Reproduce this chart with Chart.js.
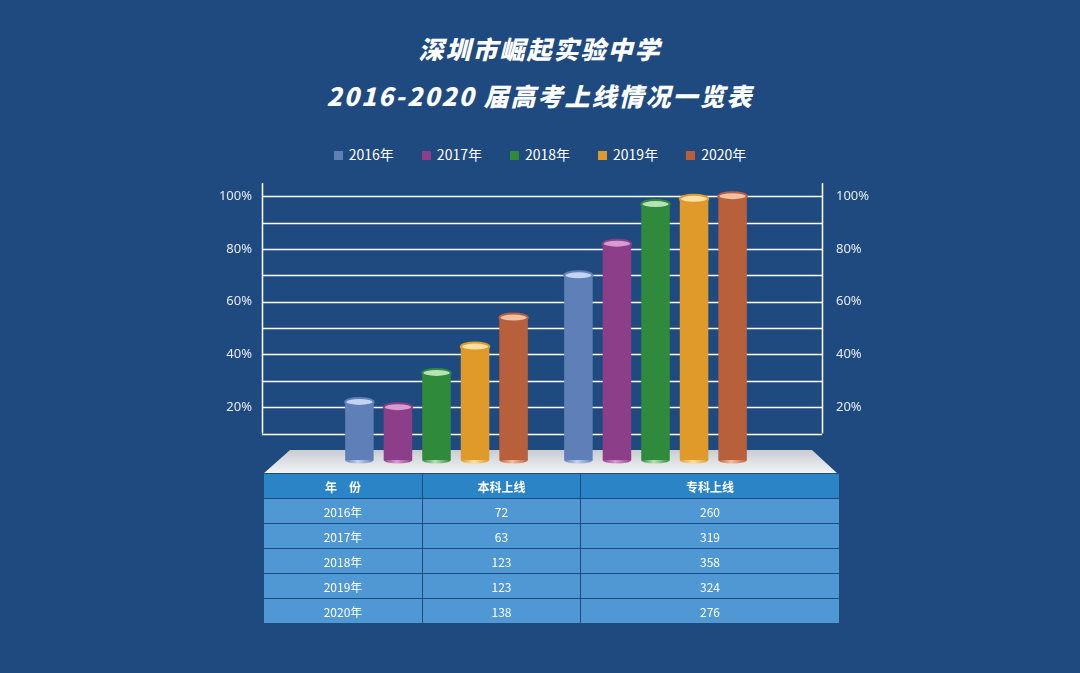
<!DOCTYPE html>
<html><head><meta charset="utf-8">
<script src="https://cdn.jsdelivr.net/npm/chart.js@4"></script>
<style>
body{margin:0;width:1080px;height:673px;background:#1f4a7f;font-family:"Noto Sans CJK SC","Noto Sans",sans-serif;position:relative;overflow:hidden}
.title{position:absolute;left:0;width:1080px;text-align:center;color:#fff;font-weight:900;font-style:italic;font-size:25px;letter-spacing:2px}
#legend{position:absolute;top:144px;left:0;width:1080px;text-align:center;color:#fff;font-size:14px}
#legend span{display:inline-block;margin:0 14px}
#legend i{display:inline-block;width:9px;height:9px;margin-right:6px}
#floor{position:absolute;left:263px;top:450px;width:575px;height:24px;clip-path:polygon(27px 0,549px 0,575px 100%,0 100%);background:linear-gradient(#c8ccd2,#f4f5f7)}
canvas{position:absolute;left:0;top:0}
table{position:absolute;left:263px;top:473px;width:576px;border-collapse:collapse;table-layout:fixed;color:#fff;font-size:12px}
td{border:1px solid #1f4a7f;height:24px;text-align:center;background:#4f98d3;padding:0}
tr:first-child td{background:#2a84c6;font-weight:bold}
</style></head><body>
<div class="title" style="top:30px">深圳市崛起实验中学</div>
<div class="title" style="top:77px">2016-2020 届高考上线情况一览表</div>
<div id="legend"></div>
<div id="floor"></div>
<canvas id="c" width="1080" height="673"></canvas>
<table id="tbl"><colgroup><col style="width:159px"><col style="width:158px"><col style="width:259px"></colgroup></table>
<script>
const groups = ['本科上线', '专科上线'];
const years = ['2016年', '2017年', '2018年', '2019年', '2020年'];
const rates = [[22, 70], [20, 82], [33, 97], [43, 99], [54, 100]];
const undergrad = [72, 63, 123, 123, 138];
const college = [260, 319, 358, 324, 276];
const yTicks = [20, 40, 60, 80, 100];
const gridVals = [10, 20, 30, 40, 50, 60, 70, 80, 90, 100];
const colors = [['#5f7fb8', '#c4d3ef'], ['#8c3f88', '#d89bd2'], ['#2f8a3c', '#b6e3b4'], ['#e09a2a', '#fde1a4'], ['#b8603c', '#f2c0a4']];

document.getElementById('legend').innerHTML = years.map((y, i) => `<span><i style="background:${colors[i][0]}"></i>${y}</span>`).join('');
let rows = '<tr><td>年　份</td><td>本科上线</td><td>专科上线</td></tr>';
years.forEach((y, i) => { rows += `<tr><td>${y}</td><td>${undergrad[i]}</td><td>${college[i]}</td></tr>`; });
document.getElementById('tbl').insertAdjacentHTML('beforeend', rows);

function grad(ctx, el, c) {
    if (!el || !isFinite(el.x) || !isFinite(el.width)) return c[0];
    const w = el.width / 2;
    const g = ctx.createLinearGradient(el.x - w, 0, el.x + w, 0);
    g.addColorStop(0, c[0]); g.addColorStop(0.45, c[1]); g.addColorStop(1, c[0]);
    return g;
}

const frame = {
    id: 'frame',
    beforeDatasetsDraw(chart) {
        const ctx = chart.ctx, y = chart.scales.y;
        ctx.save();
        ctx.strokeStyle = '#fff'; ctx.lineWidth = 1.5;
        gridVals.forEach(v => {
            const p = Math.round(y.getPixelForValue(v)) + 0.5;
            ctx.beginPath(); ctx.moveTo(262, p); ctx.lineTo(822, p); ctx.stroke();
        });
        const top = y.getPixelForValue(105), bot = y.getPixelForValue(10);
        ctx.beginPath(); ctx.moveTo(262.5, top); ctx.lineTo(262.5, bot);
        ctx.moveTo(822.5, top); ctx.lineTo(822.5, bot); ctx.stroke();
        ctx.fillStyle = '#e6ecf5'; ctx.font = '13px "Noto Sans"'; ctx.textBaseline = 'middle';
        yTicks.forEach(v => {
            const p = y.getPixelForValue(v);
            ctx.textAlign = 'right'; ctx.fillText(v + '%', 252, p);
            ctx.textAlign = 'left'; ctx.fillText(v + '%', 836, p);
        });
        ctx.restore();
    },
    afterDatasetsDraw(chart) {
        const ctx = chart.ctx;
        chart.data.datasets.forEach((ds, i) => {
            chart.getDatasetMeta(i).data.forEach(el => {
                const w = el.width / 2;
                ctx.save();
                ctx.beginPath(); ctx.ellipse(el.x, el.base, w, 3.5, 0, 0, Math.PI); ctx.fillStyle = grad(ctx, el, colors[i]); ctx.fill();
                ctx.beginPath(); ctx.ellipse(el.x, el.y, w, 4, 0, 0, Math.PI * 2);
                ctx.fillStyle = colors[i][1]; ctx.fill();
                ctx.lineWidth = 2; ctx.strokeStyle = colors[i][0]; ctx.stroke();
                ctx.restore();
            });
        });
    }
};

new Chart(document.getElementById('c'), {
    type: 'bar',
    data: {
        labels: groups,
        datasets: years.map((y, i) => ({
            label: y,
            data: rates[i],
            backgroundColor: (c) => grad(c.chart.ctx, c.element, colors[i]),
            categoryPercentage: 0.88,
            barPercentage: 0.74
        }))
    },
    options: {
        responsive: false,
        animation: false,
        layout: { padding: { left: 327, right: 315, top: 183, bottom: 213 } },
        plugins: { legend: { display: false }, tooltip: { enabled: false } },
        scales: {
            x: { display: false },
            y: { display: false, min: 0, max: 105 }
        }
    },
    plugins: [frame]
});
</script>
</body></html>
